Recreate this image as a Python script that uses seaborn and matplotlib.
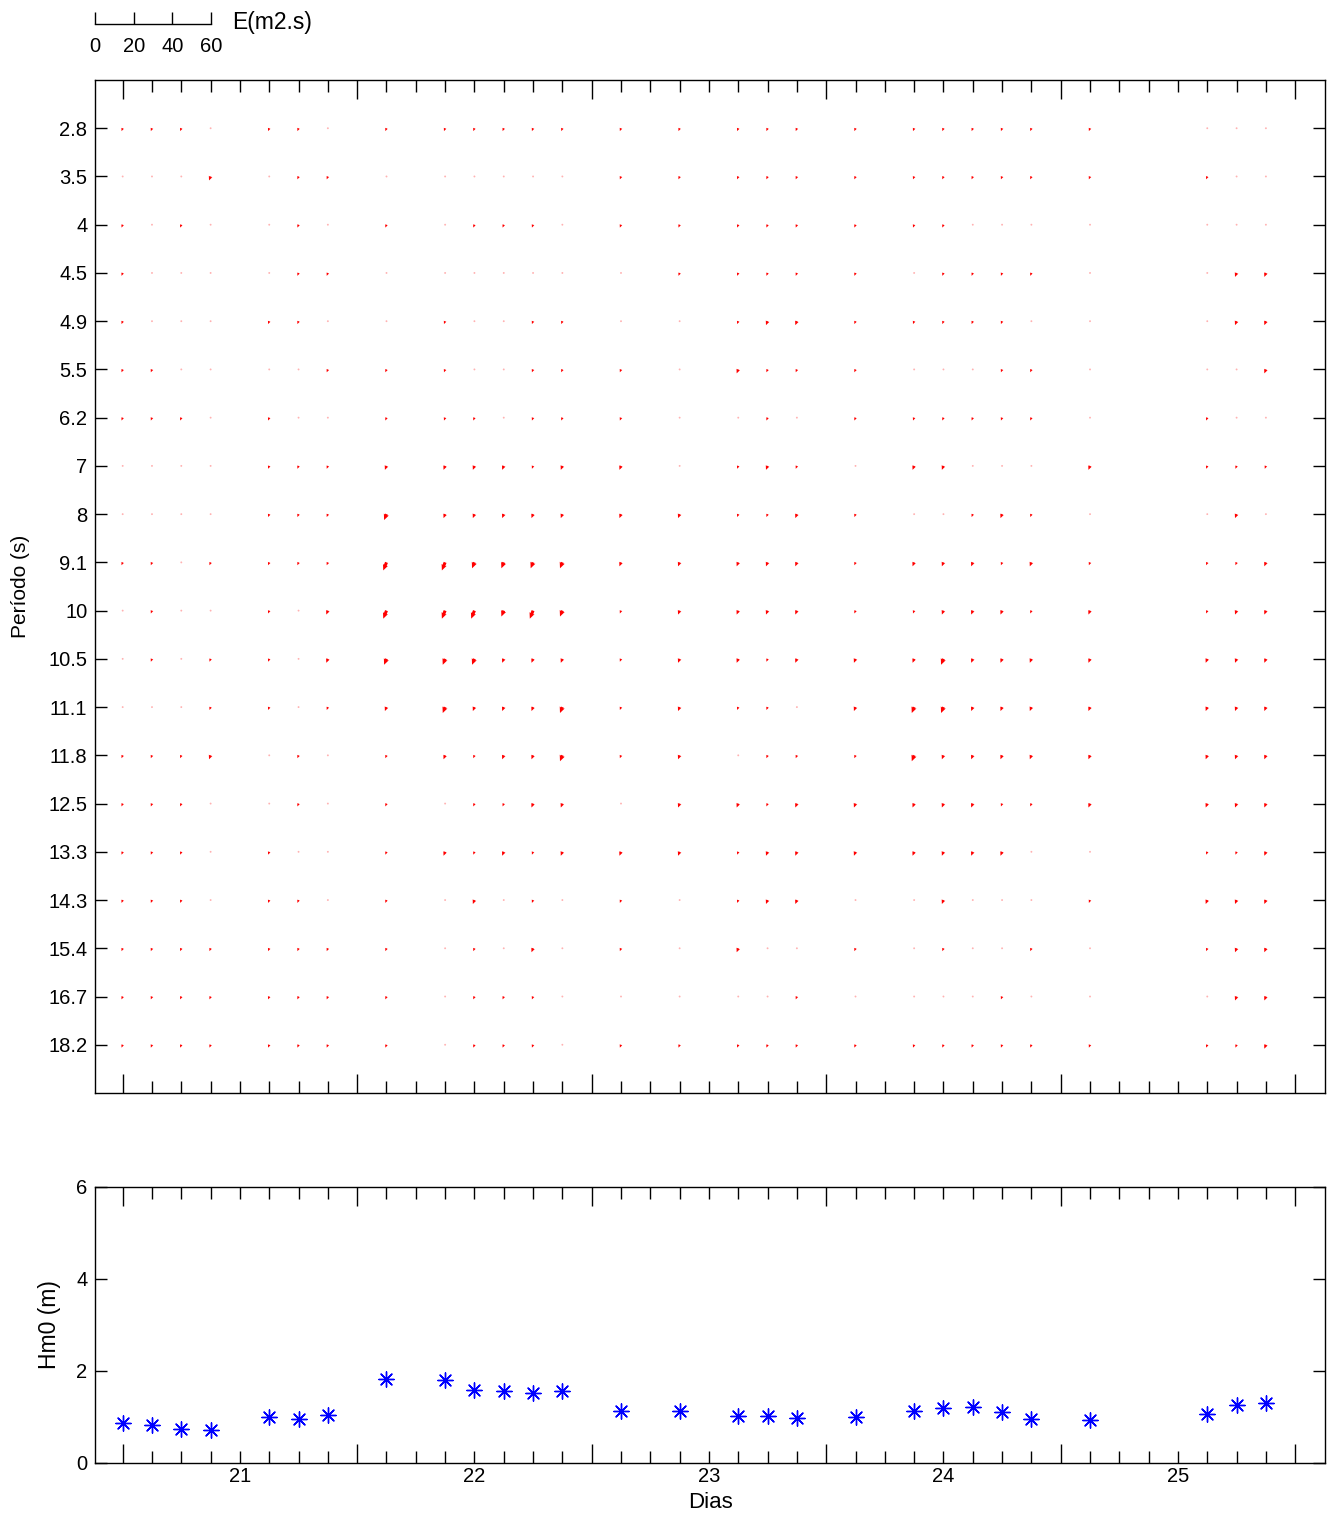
import numpy as np
import pandas as pd
import matplotlib
matplotlib.use("Agg")
import matplotlib.pyplot as plt
from matplotlib.ticker import FixedLocator, FixedFormatter, NullFormatter
import seaborn as sns

# instantes de medição (dias)
tempo_dias = [20.5, 20.625, 20.75, 20.875, 21.125, 21.25, 21.375, 21.625,
              21.875, 22.0, 22.125, 22.25, 22.375, 22.625, 22.875,
              23.125, 23.25, 23.375, 23.625, 23.875, 24.0, 24.125, 24.25, 24.375,
              24.625, 25.125, 25.25, 25.375]

# altura significativa Hm0 (m)
hm0 = [0.88, 0.82, 0.75, 0.71, 1.01, 0.95, 1.05, 1.82,
       1.81, 1.59, 1.56, 1.53, 1.56, 1.13, 1.13,
       1.02, 1.02, 0.98, 1.00, 1.13, 1.19, 1.21, 1.11, 0.96,
       0.93, 1.07, 1.26, 1.31]

periodos = ["2.8", "3.5", "4", "4.5", "4.9", "5.5", "6.2", "7", "8", "9.1",
            "10", "10.5", "11.1", "11.8", "12.5", "13.3", "14.3", "15.4", "16.7", "18.2"]

# nível de energia lido em cada célula (linha = período, coluna = instante)
niveis = [
    "11101101 1111111 111111111 1000",
    "00020110 0000011 111111111 1100",
    "10100101 0111011 111111000 0000",
    "10000110 0000001 111101111 0022",
    "10001100 1001100 122111110 0022",
    "11000011 1001110 211100011 0002",
    "11101001 1101110 010111111 0100",
    "00001112 2221220 121022000 2111",
    "00001113 2222222 112100121 0020",
    "11011114 4333322 222122212 1112",
    "01001024 4434312 222112221 2122",
    "01011023 3322212 212223222 2222",
    "00011012 3222312 110233222 2222",
    "11120101 2122312 011132222 2222",
    "11100101 0112202 212222211 2222",
    "11101001 2121222 122222220 0112",
    "11101101 0201010 122002000 1222",
    "11111111 0102010 200101001 0122",
    "11111111 0111000 001000010 0022",
    "11111111 0111011 111111111 1112",
]
energia_por_nivel = [0.3, 1.6, 2.2, 3.3, 4.5]   # m2.s
direcao_graus = 248

linhas = []
for i, txt in enumerate(niveis):
    txt = txt.replace(" ", "")
    for j, c in enumerate(txt):
        linhas.append([tempo_dias[j], i + 1, int(c)])
df = pd.DataFrame(linhas, columns=["tempo", "linha", "nivel"])
df["energia"] = [energia_por_nivel[n] for n in df["nivel"]]

sns.set_style("ticks")
plt.rcParams['font.family'] = ['Liberation Sans', 'DejaVu Sans']
plt.rcParams['axes.linewidth'] = 1.0
for chave in ['text.color', 'axes.labelcolor', 'xtick.color', 'ytick.color', 'axes.edgecolor']:
    plt.rcParams[chave] = 'black'

W, H = 1338, 1517
fig = plt.figure(figsize=(W / 100, H / 100), dpi=100)

def eixo_px(esq, topo, dir, baixo):
    return fig.add_axes([esq / W, 1 - baixo / H, (dir - esq) / W, (baixo - topo) / H])

def ticks_x(ax, com_rotulos):
    ax.set_xlim(20.382, 25.627)
    maiores = np.arange(20.5, 25.51, 1.0)
    menores = [t for t in np.arange(20.5, 25.6, 0.125) if abs((t - 20.5) % 1.0) > 1e-6]
    ax.xaxis.set_major_locator(FixedLocator(maiores))
    ax.xaxis.set_major_formatter(NullFormatter())
    ax.xaxis.set_minor_locator(FixedLocator(menores))
    if com_rotulos:
        rot = [str(int(t)) if abs(t - round(t)) < 1e-6 else "" for t in menores]
        ax.xaxis.set_minor_formatter(FixedFormatter(rot))
    else:
        ax.xaxis.set_minor_formatter(NullFormatter())
    ax.tick_params(axis='x', which='major', direction='in', length=13.7, width=1.0,
                   top=True, bottom=True, color='black')
    ax.tick_params(axis='x', which='minor', direction='in', length=8.6, width=1.0,
                   top=True, bottom=True, color='black', labelcolor='black',
                   labelsize=14.5, pad=3)
    ax.tick_params(axis='y', direction='in', length=8.6, width=1.0, left=True, right=True,
                   labelsize=14.5, pad=5.5, color='black', labelcolor='black')
    for s in ax.spines.values():
        s.set_color('black')

# painel espectral
ax = eixo_px(95, 80, 1325, 1093)
ang = np.deg2rad(direcao_graus)
u = df["energia"] * np.cos(ang)
v = df["energia"] * np.sin(ang)
cores = [(1, 0, 0, 0.3) if n == 0 else (1, 0, 0, 1) for n in df["nivel"]]
ax.quiver(df["tempo"], df["linha"], u, v, color=cores, angles='uv',
          scale_units='dots', scale=1 / 1.93, units='dots', width=3.0,
          headwidth=1.8, headlength=2.0, headaxislength=1.8, minlength=0.7, pivot='tail')
ax.set_ylim(21, 0)
ax.set_yticks(range(1, len(periodos) + 1))
ax.set_yticklabels(periodos)
ticks_x(ax, False)
ax.set_ylabel("Período (s)", fontsize=15)
ax.yaxis.set_label_coords(-0.0528, 0.5)

# painel Hm0
ax2 = eixo_px(95, 1187, 1325, 1463)
sns.scatterplot(x=tempo_dias, y=hm0, marker=(8, 2, 0), s=120, color='blue',
                linewidth=1.0, ax=ax2, legend=False)
ax2.set_ylim(0, 6)
ax2.set_yticks([0, 2, 4, 6])
ticks_x(ax2, True)
ax2.set_ylabel("Hm0 (m)", fontsize=16.5)
ax2.yaxis.set_label_coords(-0.0276, 0.5)
ax2.set_xlabel("Dias", fontsize=16)
ax2.xaxis.set_label_coords(0.5, -0.105)

# escala de energia
ax3 = eixo_px(95, 23, 211, 24)
ax3.set_xlim(0, 60)
ax3.set_xticks([0, 20, 40, 60])
ax3.set_yticks([])
for lado in ["left", "right", "top"]:
    ax3.spines[lado].set_visible(False)
ax3.spines["bottom"].set_color('black')
ax3.tick_params(axis='x', direction='in', length=8.6, width=1.0, labelsize=14.5, pad=9.5,
                color='black', labelcolor='black')
ax3.patch.set_alpha(0)
fig.text(232 / W, 1 - 22 / H, "E(m2.s)", fontsize=16.5, ha='left', va='center')

fig.savefig("out.png", dpi=100)
